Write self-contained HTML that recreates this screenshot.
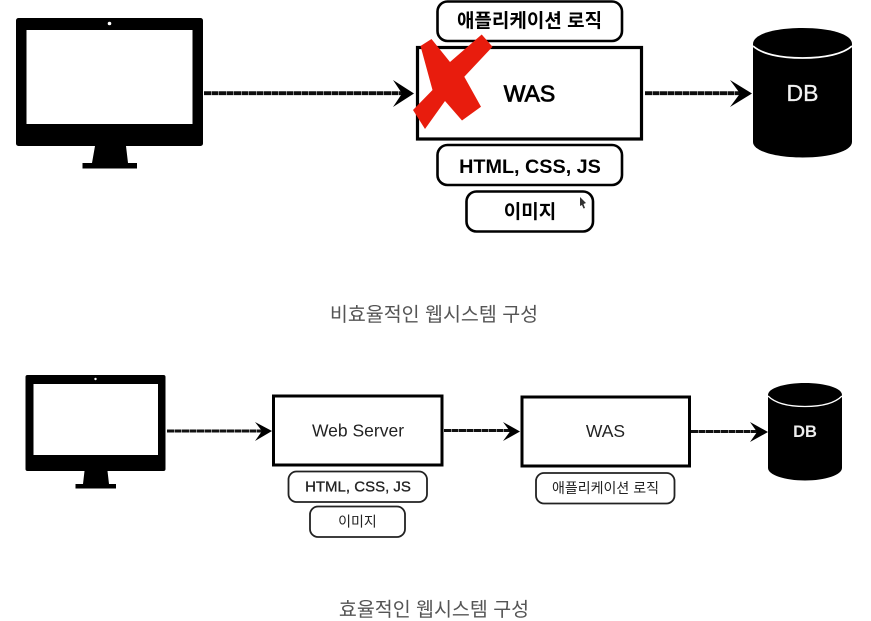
<!DOCTYPE html>
<html><head><meta charset="utf-8">
<style>
html,body{margin:0;padding:0;background:#fff;width:871px;height:621px;overflow:hidden}
svg{display:block}
text{font-family:"Liberation Sans","Noto Sans CJK KR",sans-serif;text-anchor:middle}
</style></head>
<body>
<svg width="871" height="621" viewBox="0 0 871 621" xmlns="http://www.w3.org/2000/svg">
<defs><filter id="b" x="-5%" y="-5%" width="110%" height="110%"><feGaussianBlur stdDeviation="0.35"/></filter></defs>
<rect width="871" height="621" fill="#fff"/>
<g filter="url(#b)">
<!-- top monitor -->
<rect x="16" y="18" width="187" height="128" rx="2.500" fill="#000"/>
<rect x="26.500" y="30" width="166" height="94" fill="#fff"/>
<circle cx="109.500" cy="23.500" r="1.800" fill="#fff"/>
<path d="M95 146H126L128 163H137V168.500H82.500V163H92Z" fill="#000"/>
<!-- top arrows -->
<path d="M204 93.200H404" stroke="#111" stroke-width="3.800" stroke-dasharray="7 .5" fill="none"/>
<path d="M393 80L414 93.500L393 107L402 93.500Z" fill="#000"/>
<path d="M645 93.200H742" stroke="#111" stroke-width="3.800" stroke-dasharray="7 .5" fill="none"/>
<path d="M730 80L752 93.500L730 107L740 93.500Z" fill="#000"/>
<!-- top WAS -->
<rect x="417.500" y="47.500" width="224" height="91.500" fill="#fff" stroke="#000" stroke-width="3.200"/>
<text x="529.500" y="101.500" font-size="23" fill="#000" stroke="#000" stroke-width=".8">WAS</text>
<rect x="437.500" y="1.500" width="184.500" height="39.500" rx="10" fill="#fff" stroke="#000" stroke-width="2.600"/>
<text x="529.500" y="27" font-size="19" font-weight="700" fill="#000">애플리케이션 로직</text>
<rect x="437.500" y="145" width="184.500" height="40" rx="10" fill="#fff" stroke="#000" stroke-width="2.600"/>
<text x="530" y="173" font-size="19.800" font-weight="700" fill="#000">HTML, CSS, JS</text>
<rect x="466.500" y="191.500" width="126.500" height="40" rx="10" fill="#fff" stroke="#000" stroke-width="2.600"/>
<text x="530" y="218" font-size="19" font-weight="700" fill="#000">이미지</text>
<path d="M580 197L586 203L583.500 204L585 208L583.500 208.500L582 205L580 206Z" fill="#333"/>
<!-- red X -->
<path d="M420.500 46L431.500 39L450 62L481.700 34.500L492.500 46.700L464.300 76.700L481 106.700L462 120.500L445 101L425 129L413 110L432.500 90Z" fill="#e81f0d"/>
<!-- top DB -->
<path d="M753 44C753 34 775 28 802.500 28C830 28 852 34 852 44V142C852 151 830 157.500 802.500 157.500C775 157.500 753 151 753 142Z" fill="#000"/>
<path d="M753 46C762 54 780 58 802.500 58C825 58 843 54 852 46" fill="none" stroke="#fff" stroke-width="1.800"/>
<text x="802.500" y="101" font-size="23" fill="#f2f2f2" stroke="#f2f2f2" stroke-width=".3">DB</text>
</g>
<!-- top caption -->
<text x="434" y="321" font-size="19.500" fill="#555">비효율적인 웹시스템 구성</text>

<!-- bottom monitor -->
<rect x="25.500" y="375" width="140" height="96" rx="2" fill="#000"/>
<rect x="33.500" y="384" width="124.500" height="71" fill="#fff"/>
<circle cx="95.500" cy="379" r="1.200" fill="#fff"/>
<path d="M84.500 471H107.500L109 484H116V488.500H75.500V484H83Z" fill="#000"/>
<!-- bottom arrows -->
<path d="M167 431H264" stroke="#111" stroke-width="3" stroke-dasharray="7 .5" fill="none"/>
<path d="M255 422L272 431L255 441L262 431Z" fill="#000"/>
<path d="M444 430.500H512" stroke="#111" stroke-width="3" stroke-dasharray="7 .5" fill="none"/>
<path d="M503 422L520 431.500L503 441L510 431.500Z" fill="#000"/>
<path d="M691 431.500H760" stroke="#111" stroke-width="3" stroke-dasharray="7 .5" fill="none"/>
<path d="M750 422L768 432L750 442L757 432Z" fill="#000"/>
<!-- Web Server -->
<rect x="273.500" y="396" width="168.500" height="69" fill="#fff" stroke="#000" stroke-width="3"/>
<text x="358" y="436.500" font-size="17.500" fill="#222">Web Server</text>
<rect x="288.500" y="471.500" width="138.500" height="30.500" rx="8" fill="#fff" stroke="#222" stroke-width="1.800"/>
<text x="358" y="491.500" font-size="15" fill="#222" stroke="#222" stroke-width=".3">HTML, CSS, JS</text>
<rect x="310" y="506.500" width="95" height="30.500" rx="8" fill="#fff" stroke="#222" stroke-width="1.800"/>
<text x="357.500" y="526.500" font-size="14" fill="#222">이미지</text>
<!-- bottom WAS -->
<rect x="522" y="397" width="167.500" height="69" fill="#fff" stroke="#000" stroke-width="3"/>
<text x="605.500" y="437" font-size="17.500" fill="#222">WAS</text>
<rect x="536" y="473" width="138.500" height="30.500" rx="8" fill="#fff" stroke="#222" stroke-width="1.800"/>
<text x="605.500" y="493" font-size="14" fill="#222">애플리케이션 로직</text>
<!-- bottom DB -->
<path d="M768 395C768 388 785 383 805 383C825 383 842 388 842 395V468C842 475 825 480.500 805 480.500C785 480.500 768 475 768 468Z" fill="#000"/>
<path d="M768 396C775 403 788 406.500 805 406.500C822 406.500 835 403 842 396" fill="none" stroke="#fff" stroke-width="1.300"/>
<text x="805" y="437" font-size="16.500" font-weight="700" fill="#eee">DB</text>
<!-- bottom caption -->
<text x="434" y="616" font-size="19.500" fill="#555">효율적인 웹시스템 구성</text>
</svg>
</body></html>
